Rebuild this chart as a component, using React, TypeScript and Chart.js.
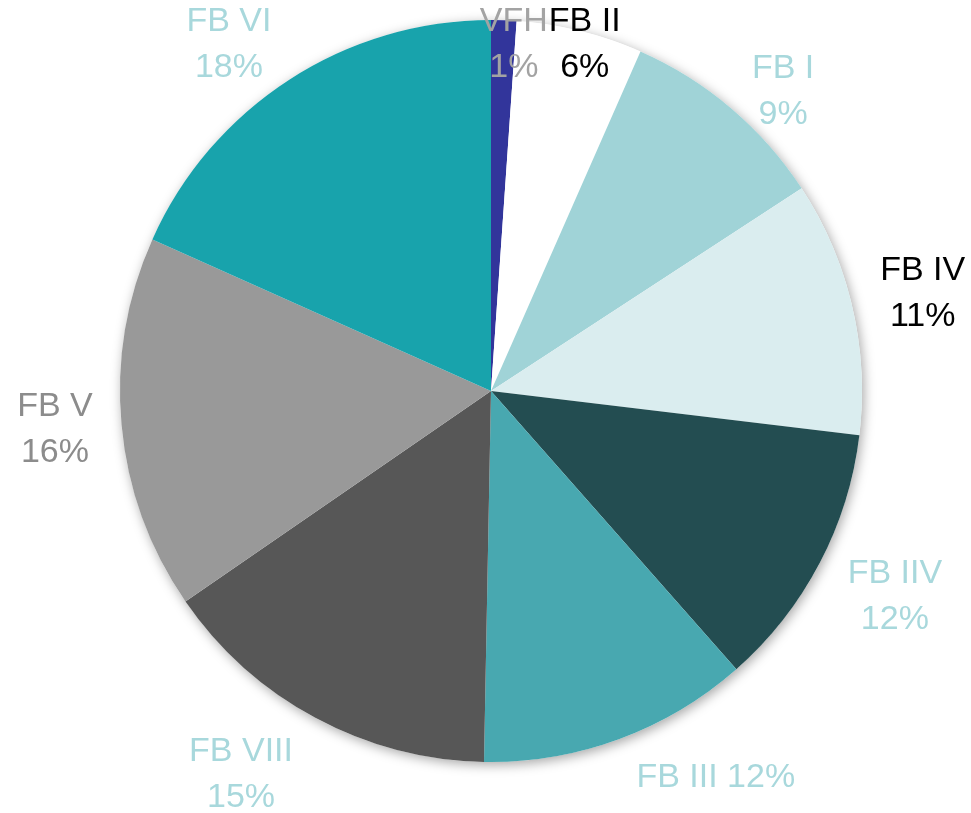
import React, { useEffect, useRef } from "react";
import { Chart, registerables } from "chart.js";

Chart.register(...registerables);

const categories = ["VFH", "FB II", "FB I", "FB IV", "FB IIV", "FB III", "FB VIII", "FB V", "FB VI"];
const shares = [1.1, 5.5, 9.2, 11.1, 11.6, 11.8, 15.1, 16.3, 18.3];
const sliceColors = ["#32359B", "#FFFFFF", "#A0D3D7", "#DAEDEF", "#234D51", "#48A8B0", "#575757", "#999999", "#18A3AC"];
const labelColors = ["#A3A3A3", "#000000", "#A8D8DC", "#000000", "#A8D8DC", "#A8D8DC", "#A8D8DC", "#8C8C8C", "#A8D8DC"];
// label placement: radial factor relative to outer radius, angular offset (deg) from slice middle, single line?
const labelRadius = [0.935, 0.966, 1.127, 1.193, 1.222, 1.206, 1.235, 1.18, 1.17];
const labelAngleOffset = [1.8, 1.3, 4.0, 0.4, -0.7, -10.0, 4.8, 0.1, -4.2];
const labelSingleLine = [false, false, false, false, false, true, false, false, false];

const FONT = '34px "Liberation Sans", Arial, sans-serif';
const LINE_GAP = 46;

const shadowPlugin = {
  id: "pieShadow",
  beforeDatasetsDraw(chart: any) {
    const meta = chart.getDatasetMeta(0);
    const arc = meta.data[0];
    if (!arc) return;
    const { x, y, outerRadius } = arc.getProps(["x", "y", "outerRadius"], true);
    const ctx = chart.ctx;
    ctx.save();
    ctx.shadowColor = "rgba(0,0,0,0.35)";
    ctx.shadowBlur = 12;
    ctx.shadowOffsetX = 2;
    ctx.shadowOffsetY = 3;
    ctx.fillStyle = "#ffffff";
    ctx.beginPath();
    ctx.arc(x, y, outerRadius, 0, Math.PI * 2);
    ctx.fill();
    ctx.restore();
  },
};

const labelPlugin = {
  id: "pieLabels",
  afterDatasetsDraw(chart: any) {
    const meta = chart.getDatasetMeta(0);
    const ctx = chart.ctx;
    const total = shares.reduce((a, b) => a + b, 0);
    ctx.save();
    ctx.font = FONT;
    ctx.textAlign = "center";
    ctx.textBaseline = "middle";
    meta.data.forEach((arc: any, i: number) => {
      const p = arc.getProps(["x", "y", "startAngle", "endAngle", "outerRadius"], true);
      const mid = (p.startAngle + p.endAngle) / 2 + (labelAngleOffset[i] * Math.PI) / 180;
      const r = p.outerRadius * labelRadius[i];
      const lx = p.x + Math.cos(mid) * r;
      const ly = p.y + Math.sin(mid) * r;
      const pct = Math.round((shares[i] / total) * 100) + "%";
      ctx.fillStyle = labelColors[i];
      if (labelSingleLine[i]) {
        ctx.fillText(categories[i] + " " + pct, lx, ly);
      } else {
        ctx.fillText(categories[i], lx, ly - LINE_GAP / 2);
        ctx.fillText(pct, lx, ly + LINE_GAP / 2);
      }
    });
    ctx.restore();
  },
};

export default function App() {
  const canvasRef = useRef<HTMLCanvasElement | null>(null);

  useEffect(() => {
    if (!canvasRef.current) return;
    const chart = new Chart(canvasRef.current, {
      type: "pie",
      data: {
        labels: categories,
        datasets: [
          {
            data: shares,
            backgroundColor: sliceColors,
            borderWidth: 0,
          },
        ],
      },
      options: {
        responsive: false,
        animation: false,
        layout: { padding: { top: 20, bottom: 51, left: 11, right: 0 } },
        plugins: {
          legend: { display: false },
          tooltip: { enabled: false },
        },
      },
      plugins: [shadowPlugin, labelPlugin],
    });
    return () => chart.destroy();
  }, []);

  return (
    <div style={{ position: "absolute", left: 0, top: 0, width: 971, height: 813, background: "#ffffff" }}>
      <canvas ref={canvasRef} width={971} height={813} />
    </div>
  );
}
